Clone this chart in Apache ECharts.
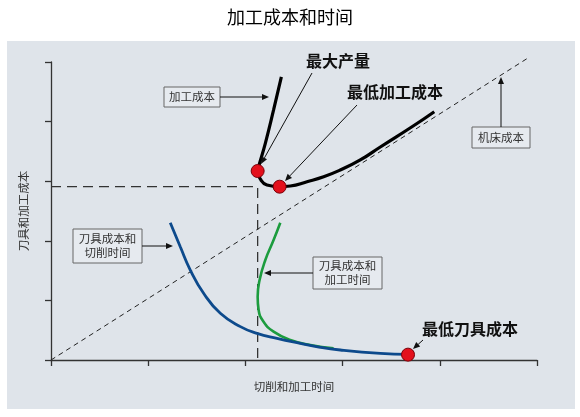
<!DOCTYPE html>
<html lang="zh">
<head>
    <meta charset="utf-8">
    <script src="https://cdn.jsdelivr.net/npm/echarts@6/dist/echarts.min.js"></script>
    <style>
        html,
        body {
            margin: 0;
            width: 100%;
            height: 100%;
            background: #fff;
            overflow: hidden;
        }

        #chart {
            width: 580px;
            height: 417px;
        }
    </style>
</head>
<body>
<div id="chart"></div>
<script>
    // 加工成本曲线 (黑)
    var machX = [2.37, 2.29, 2.205, 2.136, 2.126, 2.16, 2.222, 2.352, 2.462, 2.634, 2.805, 2.976, 3.182, 3.388, 3.73, 3.943];
    var machY = [4.75, 4.195, 3.636, 3.243, 3.171, 3.02, 2.936, 2.908, 2.919, 2.992, 3.075, 3.188, 3.356, 3.574, 3.93, 4.166];
    // 刀具成本和切削时间 (蓝)
    var cutX = [1.227, 1.33, 1.433, 1.57, 1.742, 1.948, 2.119, 2.325, 2.565, 2.771, 2.977, 3.388, 3.673];
    var cutY = [2.304, 1.901, 1.51, 1.119, 0.784, 0.56, 0.448, 0.364, 0.28, 0.213, 0.168, 0.112, 0.095];
    // 刀具成本和加工时间 (绿)
    var procX = [2.359, 2.29, 2.205, 2.146, 2.126, 2.136, 2.187, 2.29, 2.462, 2.668, 2.907];
    var procY = [2.304, 2.013, 1.678, 1.342, 1.062, 0.839, 0.643, 0.475, 0.336, 0.252, 0.196];
    // 机床成本 (虚线)
    var machineX = [0, 4.91];
    var machineY = [0, 5.07];
    // 红点: 最大产量, 最低加工成本, 最低刀具成本
    var dotX = [2.126, 2.352, 3.673];
    var dotY = [3.171, 2.908, 0.09];
    // 参考虚线
    var guideX = [0, 2.126, 2.126];
    var guideY = [2.908, 2.908, 0];
    var ticks = [0, 1, 2, 3, 4, 5];

    var FONT = '"Noto Sans CJK SC", sans-serif';

    function zip(xs, ys) {
        return xs.map(function (x, i) { return [x, ys[i]]; });
    }

    function arrow(x1, y1, x2, y2) {
        var a = Math.atan2(y2 - y1, x2 - x1);
        var L = 7, W = 3;
        var bx = x2 - L * Math.cos(a), by = y2 - L * Math.sin(a);
        return [
            {type: 'line', z: 100, shape: {x1: x1, y1: y1, x2: bx, y2: by}, style: {stroke: '#111', lineWidth: 1}},
            {type: 'polygon', z: 100, shape: {points: [
                [x2, y2],
                [bx + W * Math.sin(a), by - W * Math.cos(a)],
                [bx - W * Math.sin(a), by + W * Math.cos(a)]
            ]}, style: {fill: '#111'}}
        ];
    }

    function box(x, y, w, h, text) {
        return [
            {type: 'rect', z: 100, shape: {x: x, y: y, width: w, height: h},
                style: {fill: '#e6eaef', stroke: '#666', lineWidth: 1}},
            {type: 'text', z: 101, x: x + w / 2, y: y + h / 2,
                style: {text: text, fill: '#333', font: '11.5px ' + FONT, align: 'center', verticalAlign: 'middle', lineHeight: 14}}
        ];
    }

    function bold(x, y, text) {
        return {type: 'text', z: 101, x: x, y: y,
            style: {text: text, fill: '#111', font: 'bold 16px ' + FONT, align: 'center', verticalAlign: 'middle'}};
    }

    var elements = [
        {type: 'rect', z: -10, shape: {x: 7, y: 41, width: 568, height: 368}, style: {fill: '#dfe4ea'}}
    ];
    elements = elements
        .concat(box(164, 87, 56, 20, '加工成本'))
        .concat(arrow(220, 97, 269, 97))
        .concat([bold(338, 61, '最大产量')])
        .concat(arrow(312, 73, 261, 164))
        .concat([bold(395, 92, '最低加工成本')])
        .concat(arrow(357, 105, 285, 181))
        .concat(box(472, 127, 58, 21, '机床成本'))
        .concat(arrow(501, 127, 501, 77))
        .concat(box(73, 229, 69, 34, '刀具成本和\n切削时间'))
        .concat(arrow(142, 246, 173, 246))
        .concat(box(313, 257, 69, 32, '刀具成本和\n加工时间'))
        .concat(arrow(313, 273, 264, 273))
        .concat([bold(470, 329, '最低刀具成本')])
        .concat(arrow(423, 340, 413, 349));

    var axisCommon = {
        type: 'value',
        min: ticks[0],
        max: ticks[ticks.length - 1],
        interval: 1,
        nameLocation: 'middle',
        nameTextStyle: {fontSize: 11.5, color: '#333', fontFamily: FONT},
        axisLine: {show: true, lineStyle: {color: '#333', width: 1.3}},
        axisTick: {show: true, inside: false, length: 6, lineStyle: {color: '#333', width: 1.3}},
        axisLabel: {show: false},
        splitLine: {show: false}
    };

    var chart = echarts.init(document.getElementById('chart'), null, {renderer: 'canvas'});
    chart.setOption({
        animation: false,
        backgroundColor: '#fff',
        title: {
            text: '加工成本和时间',
            left: 'center',
            top: 3,
            textStyle: {fontSize: 18, fontWeight: 'normal', color: '#000', fontFamily: FONT}
        },
        grid: {left: 51, right: 43, top: 62, bottom: 57},
        xAxis: Object.assign({}, axisCommon, {name: '切削和加工时间', nameGap: 21}),
        yAxis: Object.assign({}, axisCommon, {name: '刀具和加工成本', nameGap: 22}),
        graphic: {elements: elements},
        series: [
            {
                name: '机床成本', type: 'line', clip: false, showSymbol: false, silent: true,
                data: zip(machineX, machineY),
                lineStyle: {color: '#222', width: 1, type: [5, 4]}
            },
            {
                name: '参考线', type: 'line', showSymbol: false, silent: true,
                data: zip(guideX, guideY),
                lineStyle: {color: '#333', width: 1.3, type: [10, 6]}
            },
            {
                name: '刀具成本和加工时间', type: 'line', smooth: 0.5, showSymbol: false, silent: true,
                data: zip(procX, procY),
                lineStyle: {color: '#1c9c3e', width: 2.6}
            },
            {
                name: '刀具成本和切削时间', type: 'line', smooth: 0.5, showSymbol: false, silent: true,
                data: zip(cutX, cutY),
                lineStyle: {color: '#0d4a8c', width: 2.8}
            },
            {
                name: '加工成本', type: 'line', smooth: 0.5, showSymbol: false, silent: true,
                data: zip(machX, machY),
                lineStyle: {color: '#000', width: 3.2}
            },
            {
                name: '关键点', type: 'scatter', symbolSize: 13, silent: true, z: 5,
                data: zip(dotX, dotY),
                itemStyle: {color: '#e3101c', borderColor: '#7a0008', borderWidth: 1, opacity: 1}
            }
        ]
    });
</script>
</body>
</html>
